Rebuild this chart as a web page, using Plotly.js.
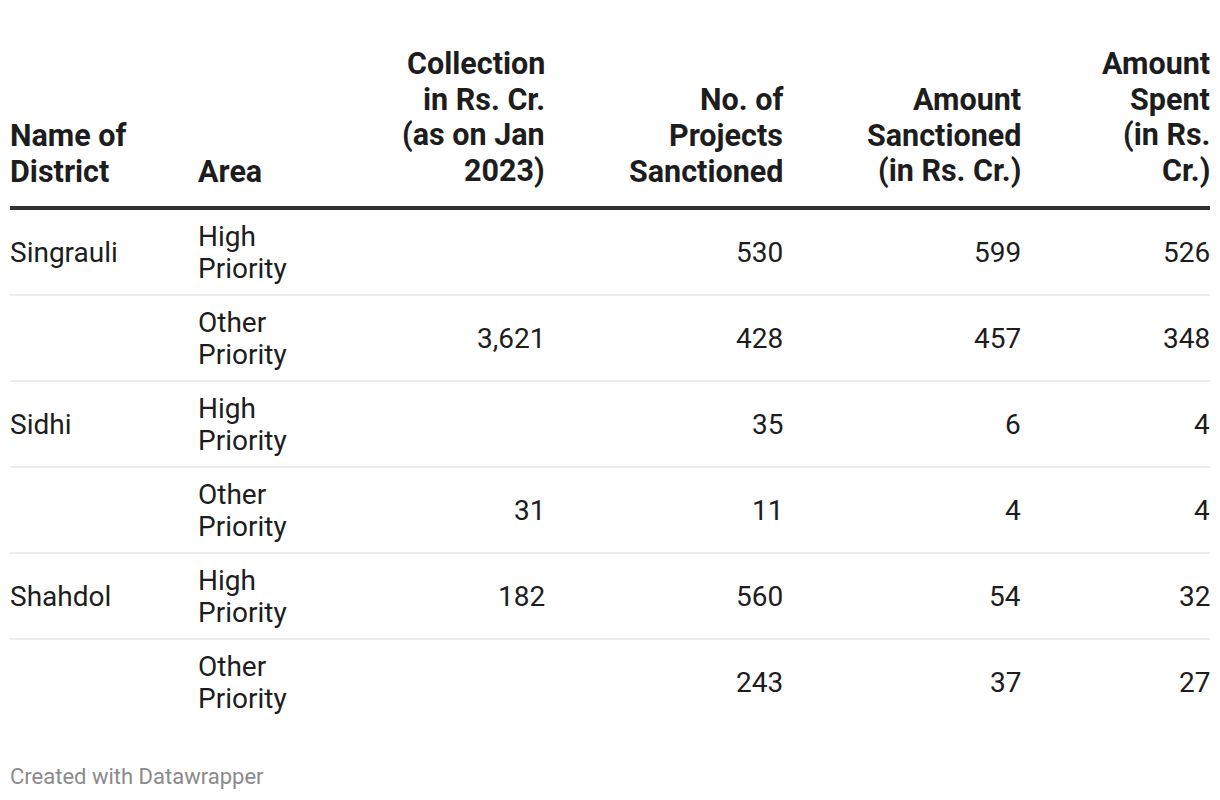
<!DOCTYPE html>
<html>
<head>
<meta charset="utf-8">
<script src="https://cdn.plot.ly/plotly-3.0.1.min.js"></script>
<style>html,body{margin:0;padding:0;background:#fff;}</style>
</head>
<body>
<div id="chart" style="width:1220px;height:800px;"></div>
<script>
// ---- data ----
const headers = [
  ["Name of", "District"],
  ["Area"],
  ["Collection", "in Rs. Cr.", "(as on Jan", "2023)"],
  ["No. of", "Projects", "Sanctioned"],
  ["Amount", "Sanctioned", "(in Rs. Cr.)"],
  ["Amount", "Spent", "(in Rs.", "Cr.)"]
];
const districts = ["Singrauli", "", "Sidhi", "", "Shahdol", ""];
const areas = ["High Priority", "Other Priority", "High Priority", "Other Priority", "High Priority", "Other Priority"];
const collection = [null, 3621, null, 31, 182, null];
const projects = [530, 428, 35, 11, 560, 243];
const sanctioned = [599, 457, 6, 4, 54, 37];
const spent = [526, 348, 4, 4, 32, 27];
const footer = "Created with Datawrapper";

// ---- layout geometry ----
const colX = [10, 198, 545, 783, 1021, 1210];
const colAlign = ["left", "left", "right", "right", "right", "right"];
const headerLastLineY = 171, headerLineH = 36;
const headerRuleY = 208;
const rowTop = 210, rowH = 86, bodyLineH = 32;
const textColor = "#1d1d1d";
const FONT = "Roboto, 'Open Sans', sans-serif";
const HEAD_SIZE = 30.5, BODY_SIZE = 28, FOOT_SIZE = 22;

const fmt = v => (v === null || v === undefined) ? "" : v.toLocaleString("en-US");

const annotations = [];
function addText(x, y, text, align, size, weight, color) {
  if (!text) return;
  annotations.push({
    x: x, y: y, xref: "x", yref: "y", text: text, showarrow: false,
    xanchor: align, yanchor: "middle", align: align,
    borderpad: 0, borderwidth: 0,
    font: {family: FONT, size: size, color: color || textColor, weight: weight || 400}
  });
}

// header
headers.forEach((lines, c) => {
  const n = lines.length;
  lines.forEach((ln, i) => {
    const y = headerLastLineY - (n - 1 - i) * headerLineH;
    addText(colX[c], y, "<b>" + ln + "</b>", colAlign[c], HEAD_SIZE, 700);
  });
});

// body
const cols = [districts, areas, collection.map(fmt), projects.map(fmt), sanctioned.map(fmt), spent.map(fmt)];
const shapes = [];
shapes.push({type: "line", xref: "x", yref: "y", x0: 10, x1: 1210, y0: headerRuleY, y1: headerRuleY,
  line: {color: "#333333", width: 4}});
for (let r = 0; r < districts.length; r++) {
  const cy = rowTop + rowH * r + rowH / 2 - 1;
  cols.forEach((col, c) => {
    const val = col[r];
    if (c === 1) {
      const parts = val.split(" ");
      addText(colX[c], cy - bodyLineH / 2, parts[0], "left", BODY_SIZE);
      addText(colX[c], cy + bodyLineH / 2, parts.slice(1).join(" "), "left", BODY_SIZE);
    } else {
      addText(colX[c], cy, val, colAlign[c], BODY_SIZE);
    }
  });
  if (r < districts.length - 1) {
    shapes.push({type: "line", xref: "x", yref: "y", x0: 10, x1: 1210, y0: rowTop + rowH * (r + 1) - 1, y1: rowTop + rowH * (r + 1) - 1,
      line: {color: "#e6e6e6", width: 1.5}});
  }
}

addText(10, 776, footer, "left", FOOT_SIZE, 400, "#8a8a8a");

const layout = {
  width: 1220, height: 800,
  margin: {l: 0, r: 0, t: 0, b: 0},
  paper_bgcolor: "#ffffff", plot_bgcolor: "#ffffff",
  xaxis: {range: [0, 1220], visible: false, fixedrange: true},
  yaxis: {range: [800, 0], visible: false, fixedrange: true},
  showlegend: false,
  annotations: annotations,
  shapes: shapes
};

Plotly.newPlot("chart", [{x: [], y: [], type: "scatter", mode: "markers", hoverinfo: "skip"}], layout, {displayModeBar: false, staticPlot: true});
</script>
</body>
</html>
